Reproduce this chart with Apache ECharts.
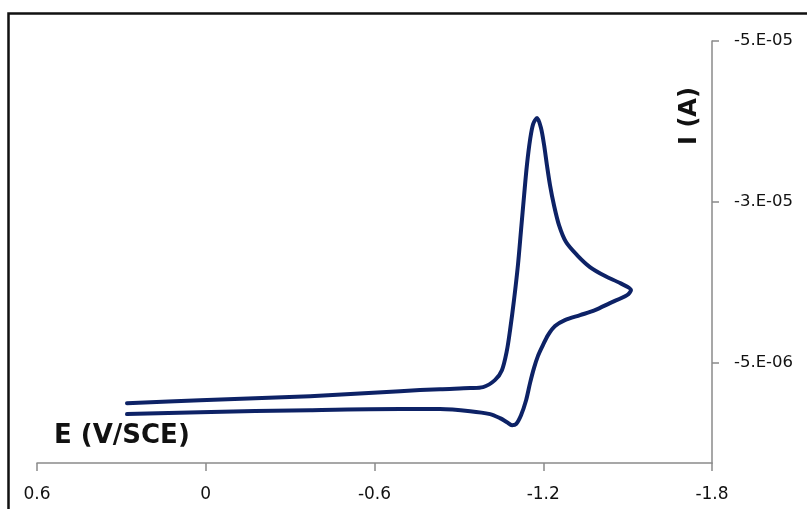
<!DOCTYPE html>
<html>
<head>
<meta charset="utf-8">
<script src="https://cdn.jsdelivr.net/npm/echarts@6/dist/echarts.min.js"></script>
<style>
html,body{margin:0;padding:0;background:#fff;}
#chart{width:807px;height:509px;}
</style>
</head>
<body>
<div id="chart"></div>
<script>
// Potential E (V vs SCE), in scan order (forward then reverse)
var potentials = [
  0.28, 0.02, -0.371, -0.691, -0.833, -0.940, -0.986, -1.028, -1.053, -1.071,
  -1.082, -1.096, -1.110, -1.121, -1.132, -1.142, -1.153, -1.164, -1.178,
  -1.192, -1.203, -1.213, -1.224, -1.238, -1.256, -1.281, -1.320, -1.366, -1.420,
  -1.473, -1.512,
  -1.498, -1.437, -1.384, -1.331, -1.277, -1.242, -1.217, -1.199, -1.181, -1.167,
  -1.153, -1.139, -1.121, -1.103, -1.089, -1.071, -1.046, -1.011, -0.940, -0.833,
  -0.691, -0.371, 0.020, 0.28
];
// Current I (A), same order
var currents = [
  -0.03e-6, -0.40e-6, -0.90e-6, -1.52e-6, -1.77e-6, -1.90e-6, -2.02e-6, -2.89e-6, -4.13e-6, -6.62e-6,
  -9.10e-6, -12.83e-6, -17.17e-6, -21.52e-6, -25.87e-6, -29.60e-6, -32.70e-6, -34.69e-6, -35.43e-6,
  -34.19e-6, -32.08e-6, -29.60e-6, -27.11e-6, -24.63e-6, -22.14e-6, -20.03e-6, -18.42e-6, -16.93e-6, -15.81e-6,
  -14.94e-6, -14.07e-6,
  -13.45e-6, -12.45e-6, -11.58e-6, -10.96e-6, -10.34e-6, -9.60e-6, -8.48e-6, -7.24e-6, -5.87e-6, -4.38e-6,
  -2.52e-6, -0.40e-6, 1.46e-6, 2.58e-6, 2.70e-6, 2.33e-6, 1.83e-6, 1.33e-6, 0.96e-6, 0.71e-6,
  0.71e-6, 0.84e-6, 1.09e-6, 1.33e-6
];
var xTickValues = [0.6, 0, -0.6, -1.2, -1.8];
var xTickLabels = ['0.6', '0', '-0.6', '-1.2', '-1.8'];
var yTickValues = [-4.5e-5, -2.5e-5, -5e-6];
var yTickLabels = ['-5.E-05', '-3.E-05', '-5.E-06'];

function lookup(vals, labels, v, tol) {
  for (var i = 0; i < vals.length; i++) {
    if (Math.abs(vals[i] - v) < tol) return labels[i];
  }
  return '';
}

var data = potentials.map(function (e, i) { return [e, currents[i]]; });

var chart = echarts.init(document.getElementById('chart'), null, {renderer: 'canvas'});
chart.setOption({
  animation: false,
  backgroundColor: '#ffffff',
  grid: {left: 37, right: 95, top: 41, bottom: 46},
  xAxis: {
    type: 'value',
    inverse: true,
    min: -1.8,
    max: 0.6,
    interval: 0.6,
    splitLine: {show: false},
    axisLine: {onZero: false, lineStyle: {color: '#8a8a8a', width: 1.5}},
    axisTick: {show: true, inside: false, length: 8, lineStyle: {color: '#8a8a8a', width: 1.5}},
    axisLabel: {
      margin: 23,
      color: '#111',
      fontFamily: 'DejaVu Sans',
      fontSize: 17,
      formatter: function (v) { return lookup(xTickValues, xTickLabels, v, 1e-6); }
    }
  },
  yAxis: {
    type: 'value',
    position: 'right',
    inverse: true,
    min: -4.5e-5,
    max: 7.4e-6,
    interval: 2e-5,
    splitLine: {show: false},
    axisLine: {onZero: false, lineStyle: {color: '#8a8a8a', width: 1.5}},
    axisTick: {show: true, inside: false, length: 7, lineStyle: {color: '#8a8a8a', width: 1.5}},
    axisLabel: {
      margin: 22,
      showMaxLabel: false,
      color: '#111',
      fontFamily: 'DejaVu Sans',
      fontSize: 16.5,
      formatter: function (v) { return lookup(yTickValues, yTickLabels, v, 1e-7); }
    }
  },
  series: [{
    type: 'line',
    data: data,
    showSymbol: false,
    smooth: 0.3,
    lineStyle: {color: '#0d2266', width: 4, cap: 'round', join: 'round'}
  }],
  graphic: [
    {
      type: 'rect',
      shape: {x: 8.5, y: 13.5, width: 900, height: 600},
      style: {fill: 'none', stroke: '#111', lineWidth: 2.5},
      silent: true
    },
    {
      type: 'text',
      left: 54,
      top: 423,
      style: {text: 'E (V/SCE)', font: 'bold 26px "DejaVu Sans"', fill: '#111'}
    },
    {
      type: 'text',
      x: 690,
      y: 116,
      rotation: Math.PI / 2,
      style: {text: 'I (A)', font: 'bold 24px "DejaVu Sans"', fill: '#111', textAlign: 'center', textVerticalAlign: 'middle'}
    }
  ]
});
</script>
</body>
</html>
